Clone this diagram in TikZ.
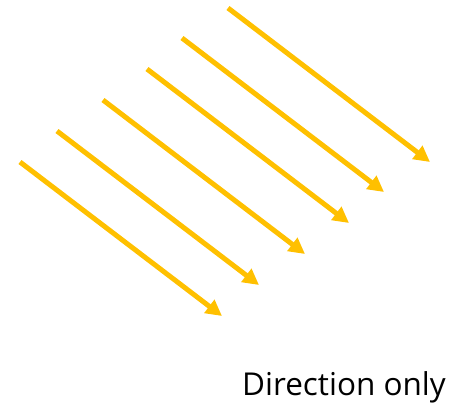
\documentclass[tikz,border=0pt]{standalone}
\usepackage{fontspec}
\setmainfont{Open Sans}
\usetikzlibrary{arrows.meta,positioning}
\definecolor{sarga}{HTML}{FFC000}
\tikzset{
  sugar/.style={line width=5pt,draw=sarga,-{Triangle[length=16pt,width=16pt]}},
  felirat/.style={font=\fontsize{31.5}{36}\selectfont,inner sep=0pt},
}

\begin{document}
\begin{tikzpicture}[x=1pt,y=-1pt]
  \useasboundingbox (0,0) rectangle (450,410);
  \foreach \i/\x/\y in {1/20/162,2/57/131,3/103/100,4/147/69,5/182/38,6/228/8}{
    \coordinate (k\i) at (\x,\y);
    \coordinate (v\i) at (\x+202,\y+154);
    \draw[sugar] (k\i) -- (v\i);
  }
  \node[felirat] (irany) at (344,387) {Direction only};
\end{tikzpicture}
\end{document}
